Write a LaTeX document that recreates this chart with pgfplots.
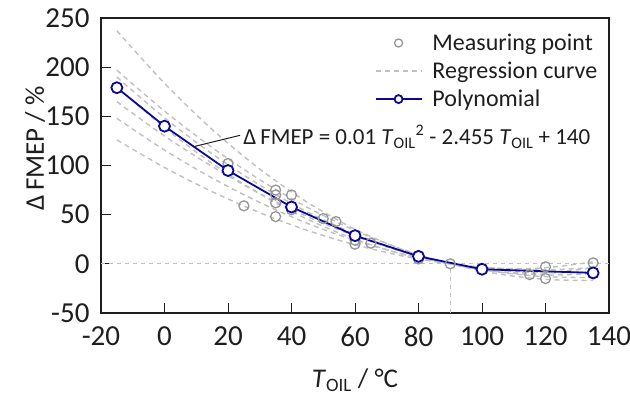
\documentclass[border=0pt]{standalone}
\usepackage{fontspec}
\setmainfont{Carlito}
\usepackage{pgfplots}
\pgfplotsset{compat=1.18}
\usetikzlibrary{calc}
\definecolor{polyblue}{RGB}{10,10,150}
\definecolor{ptgray}{RGB}{150,150,150}
\definecolor{reggray}{RGB}{192,192,192}
\definecolor{txt}{RGB}{30,30,30}

\begin{document}
\begin{tikzpicture}
\begin{axis}[
    scale only axis, width=508pt, height=295pt,
    xmin=-20, xmax=140, ymin=-50, ymax=250,
    xtick={-20,0,...,140}, ytick={-50,0,...,250},
    tick align=inside, xtick pos=bottom, ytick pos=left,
    major tick length=10pt,
    axis line style={line width=1.2pt, txt},
    tick style={line width=1pt, txt},
    tick label style={font=\fontsize{29}{34}\selectfont, text=txt},
    /pgf/number format/assume math mode=true,
    yticklabel style={xshift=-8pt},
    xticklabel style={yshift=-10pt},
    every axis x label/.style={at={(axis description cs:0.5,0)}, anchor=center, yshift=-67pt},
    every axis y label/.style={at={(axis description cs:-0.13,0.558)}, rotate=90, anchor=center},
    label style={font=\fontsize{27}{32}\selectfont, text=txt},
    xlabel={\textit{T}\textsubscript{OIL} / °C},
    ylabel={Δ\,FMEP / \%},
    legend style={at={(rel axis cs:0.985,0.96)}, anchor=north east, draw=none, fill=none,
        font=\fontsize{24}{28}\selectfont, text=txt, row sep=6pt, column sep=8pt, inner sep=2pt},
    legend cell align=left,
    legend image code/.code={\draw[#1] (0pt,0pt) -- (46pt,0pt);},
    reg/.style={reggray, line width=1.4pt, dash pattern=on 5pt off 4pt, smooth, forget plot},
]
% reference lines (0 at 90 degC)
\addplot[reggray, line width=1pt, dash pattern=on 4pt off 4pt, forget plot] coordinates {(-20,0) (140,0)};
\addplot[reggray, line width=1pt, dash pattern=on 4pt off 4pt, forget plot] coordinates {(90,-50) (90,0)};

% measuring points
\addplot[only marks, mark=o, mark size=5pt, ptgray, line width=1.3pt,
    legend image code/.code={\draw[ptgray, line width=1.3pt, mark=o, mark size=4pt] plot coordinates {(23pt,0pt)};}] coordinates {
(20,102) (25,59) (35,75) (35,70) (35,62) (35,48) (40,70) (40,55) (50,46) (54,43)
(60,20) (60,24) (65,21) (80,5) (80,8) (90,0) (100,-5) (100,-6) (115,-11)
(120,-3) (120,-15) (135,1) (135,-10)
};
\addlegendentry{Measuring point}

% regression curves
\addplot[reggray, line width=1.4pt, dash pattern=on 5pt off 4pt, smooth] coordinates {
(-15,237.0) (0,183.6) (15,136.7) (30,96.4) (45,62.6) (60,35.2) (75,14.4) (90,0) (105,-7.8) (120,-9.2) (135,-4.0)
};
\addlegendentry{Regression curve}
\addplot[reg] coordinates {
(-15,196.9) (0,155.3) (15,118.2) (30,85.6) (45,57.4) (60,33.8) (75,14.7) (90,0) (105,-10.2) (120,-15.8) (135,-17.0)
};
\addplot[reg] coordinates {
(-15,189.9) (0,148.5) (15,111.9) (30,80.0) (45,52.8) (60,30.4) (75,12.9) (90,0) (105,-8.1) (120,-11.4) (135,-10.0)
};
\addplot[reg] coordinates {
(-15,179.9) (0,138.4) (15,102.1) (30,71.2) (45,45.4) (60,25.0) (75,9.8) (90,0) (105,-4.6) (120,-4.0) (135,2.0)
};
\addplot[reg] coordinates {
(-15,164.9) (0,130.0) (15,99.0) (30,71.5) (45,48.0) (60,28.3) (75,12.2) (90,0) (105,-8.4) (120,-13.1) (135,-14.0)
};
\addplot[reg] coordinates {
(-15,147.9) (0,115.7) (15,87.2) (30,62.4) (45,41.2) (60,23.8) (75,10.0) (90,0) (105,-6.4) (120,-9.0) (135,-8.0)
};
\addplot[reg] coordinates {
(-15,126.0) (0,98.0) (15,73.4) (30,52.0) (45,34.0) (60,19.4) (75,8.0) (90,0) (105,-4.6) (120,-6.0) (135,-4.0)
};

% polynomial
\addplot[polyblue, line width=1.8pt, mark=*, mark size=5.5pt,
    mark options={fill=white, draw=polyblue, line width=1.8pt},
    legend image code/.code={\draw[polyblue, line width=1.8pt, mark=*, mark size=4pt,
        mark options={fill=white, draw=polyblue}, mark repeat=2, mark phase=2]
        plot coordinates {(0pt,0pt) (23pt,0pt) (46pt,0pt)};}] coordinates {
(-15,179.1) (0,140) (20,94.9) (40,57.8) (60,28.7) (80,7.6) (100,-5.5) (135,-9.2)
};
\addlegendentry{Polynomial}

% equation label
\draw[txt, line width=1pt] (axis cs:9.6,119.5) -- (axis cs:23.8,130.7);
\node[anchor=west, font=\fontsize{23}{28}\selectfont, text=txt, inner sep=1pt] at (axis cs:24.5,129)
    {Δ\,FMEP = 0.01 \textit{T}\textsubscript{OIL}\textsuperscript{2} - 2.455 \textit{T}\textsubscript{OIL} + 140};
\end{axis}
\pgfresetboundingbox
\path ($(current axis.south west)+(-101pt,-93pt)$) rectangle ($(current axis.north east)+(21pt,18pt)$);
\end{tikzpicture}
\end{document}
